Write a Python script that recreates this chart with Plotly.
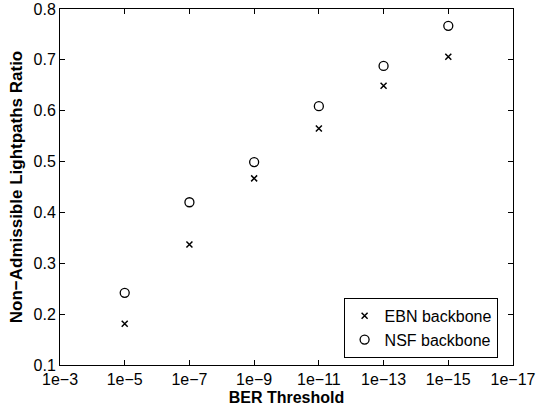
import plotly.graph_objects as go

ber_exp = [5, 7, 9, 11, 13, 15]
ebn = [0.181, 0.337, 0.467, 0.565, 0.649, 0.706]
nsf = [0.242, 0.420, 0.499, 0.609, 0.688, 0.767]
tick_exp = [3, 5, 7, 9, 11, 13, 15, 17]
tick_labels = ["1e\u2212%d" % e for e in tick_exp]
y_ticks = [0.1, 0.2, 0.3, 0.4, 0.5, 0.6, 0.7, 0.8]

FONT = "Liberation Sans"

fig = go.Figure()
fig.add_trace(go.Scatter(x=ber_exp, y=ebn, mode="markers", name="EBN backbone",
                         marker=dict(symbol="x-thin-open", size=6, color="black",
                                     line=dict(width=1.5, color="black"))))
fig.add_trace(go.Scatter(x=ber_exp, y=nsf, mode="markers", name="NSF backbone",
                         marker=dict(symbol="circle-open", size=9, color="black",
                                     line=dict(width=1.3, color="black"))))

axis_common = dict(showgrid=False, zeroline=False, showline=True, linecolor="black",
                   linewidth=1, mirror="allticks", ticks="inside", ticklen=5,
                   tickcolor="black", automargin=False,
                   tickfont=dict(family=FONT, size=16, color="black"))
fig.update_xaxes(range=[3, 17], tickvals=tick_exp, ticktext=tick_labels,
                 title=dict(text="<b>BER Threshold</b>", standoff=4,
                            font=dict(family=FONT, size=16, color="black")),
                 **axis_common)
fig.update_yaxes(range=[0.1, 0.8], tickvals=y_ticks, ticktext=["%.1f" % v for v in y_ticks],
                 title=dict(text="<b>Non\u2212Admissible Lightpaths Ratio</b>", standoff=6,
                            font=dict(family=FONT, size=17, color="black")),
                 **axis_common)
fig.update_layout(
    width=537, height=409, paper_bgcolor="white", plot_bgcolor="white",
    margin=dict(l=60, r=24, t=9, b=44),
    legend=dict(x=0.966, y=0.02, xanchor="right", yanchor="bottom",
                bgcolor="white", bordercolor="black", borderwidth=1,
                font=dict(family=FONT, size=16, color="black"),
                tracegroupgap=0, itemwidth=30),
    showlegend=True,
)
fig.write_html("out.html", config={"displayModeBar": False},
               post_script="document.body.style.margin='0';")
